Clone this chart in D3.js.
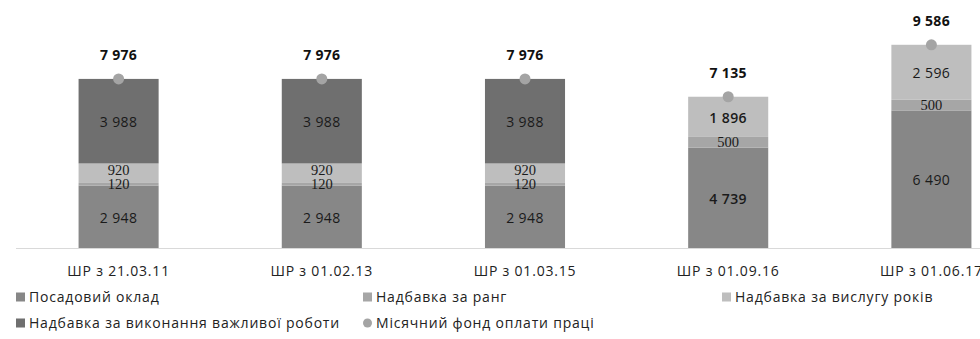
<!DOCTYPE html>
<html>
<head>
<meta charset="utf-8">
<script src="https://cdn.jsdelivr.net/npm/d3@7"></script>
<style>
  html, body { margin: 0; padding: 0; background: #fff; overflow: hidden; }
  svg { display: block; }
</style>
</head>
<body>
<svg id="chart" width="980" height="339"></svg>
<script>
// Salary structure by pay scale revision (UAH)
const categories = ["ШР з 21.03.11", "ШР з 01.02.13", "ШР з 01.03.15", "ШР з 01.09.16", "ШР з 01.06.17"];
const baseSalary     = [2948, 2948, 2948, 4739, 6490];   // Посадовий оклад
const rankBonus      = [120, 120, 120, 500, 500];        // Надбавка за ранг
const tenureBonus    = [920, 920, 920, 1896, 2596];      // Надбавка за вислугу років
const importantBonus = [3988, 3988, 3988, 0, 0];         // Надбавка за виконання важливої роботи
const monthlyFund    = [7976, 7976, 7976, 7135, 9586];   // Місячний фонд оплати праці

const seriesNames = ["Посадовий оклад", "Надбавка за ранг", "Надбавка за вислугу років",
                     "Надбавка за виконання важливої роботи", "Місячний фонд оплати праці"];
const seriesColors = ["#878787", "#a6a6a6", "#bebebe", "#6f6f6f", "#a4a4a4"];
const seriesValues = [baseSalary, rankBonus, tenureBonus, importantBonus];

const svg = d3.select("#chart");
const sansFont = "'Open Sans', Lato, 'DejaVu Sans', sans-serif";
const serifFont = "'Liberation Serif', 'DejaVu Serif', serif";

const x = d3.scaleBand()
  .domain(categories)
  .range([17, 1033])
  .paddingInner(0.606)
  .paddingOuter(0.303);

const y = d3.scaleLinear().domain([0, 10000]).range([248, 36]);

// baseline
svg.append("line")
  .attr("x1", 16).attr("x2", 1033)
  .attr("y1", y(0) + 0.5).attr("y2", y(0) + 0.5)
  .attr("stroke", "#d9d9d9").attr("stroke-width", 1);

// stacked segments
const rows = categories.map((c, i) => {
  const r = { cat: c };
  seriesValues.forEach((s, k) => r["s" + k] = s[i]);
  return r;
});
const stack = d3.stack().keys(seriesValues.map((s, k) => "s" + k));
const layers = stack(rows);

const gBars = svg.append("g");
layers.forEach((layer, k) => {
  gBars.selectAll(null)
    .data(layer.filter(d => d[1] - d[0] > 0))
    .enter().append("rect")
    .attr("x", d => x(d.data.cat))
    .attr("width", x.bandwidth())
    .attr("y", d => y(d[1]))
    .attr("height", d => y(d[0]) - y(d[1]))
    .attr("fill", seriesColors[k]);
});

// segment value labels
const fmt = v => d3.format(",")(v).replace(/,/g, " ");
const isSerif = (k, v) => k === 1 || (k === 2 && v < 1000);
layers.forEach((layer, k) => {
  gBars.selectAll(null)
    .data(layer.filter(d => d[1] - d[0] > 0))
    .enter().append("text")
    .attr("x", d => x(d.data.cat) + x.bandwidth() / 2)
    .attr("y", d => {
      const v = d[1] - d[0];
      const mid = (y(d[0]) + y(d[1])) / 2;
      if (k === 1 && v < 300) return mid + 5;   // thin band: label hangs just below it
      if (k === 2 && v < 1000) return mid + 1.5; // light band above the thin one
      if (isSerif(k, v)) return mid + 5;
      return mid + 6;
    })
    .attr("text-anchor", "middle")
    .attr("font-family", d => isSerif(k, d[1] - d[0]) ? serifFont : sansFont)
    .attr("font-size", d => isSerif(k, d[1] - d[0]) ? 14.5 : 14)
    .attr("letter-spacing", d => isSerif(k, d[1] - d[0]) ? 0 : 0.4)
    .attr("font-weight", d => (k === 2 && d[1] - d[0] < 2000 && d[1] - d[0] > 1000) || (k === 0 && d[1] - d[0] > 4000 && d[1] - d[0] < 5000) ? 600 : 400)
    .attr("fill", "#1a1a1a")
    .text(d => fmt(d[1] - d[0]));
});

// monthly fund markers and totals
const gDots = svg.append("g");
gDots.selectAll("circle")
  .data(monthlyFund)
  .enter().append("circle")
  .attr("cx", (d, i) => x(categories[i]) + x.bandwidth() / 2)
  .attr("cy", d => y(d))
  .attr("r", 5.5)
  .attr("fill", seriesColors[4]);

gDots.selectAll("text")
  .data(monthlyFund)
  .enter().append("text")
  .attr("x", (d, i) => x(categories[i]) + x.bandwidth() / 2)
  .attr("y", d => y(d) - 19)
  .attr("text-anchor", "middle")
  .attr("font-family", sansFont)
  .attr("font-size", 14)
  .attr("letter-spacing", 0.3)
  .attr("font-weight", 700)
  .attr("fill", "#111")
  .text(d => fmt(d));

// category axis
const xAxis = d3.axisBottom(x).tickSize(0).tickPadding(0);
const gAx = svg.append("g")
  .attr("transform", `translate(0, ${y(0)})`)
  .call(xAxis);
gAx.select(".domain").remove();
gAx.selectAll("text")
  .attr("dy", 0)
  .attr("y", 28)
  .attr("font-family", sansFont)
  .attr("font-size", 14)
  .attr("letter-spacing", 0.8)
  .attr("fill", "#222");

// legend
const legendPos = [[16, 297], [363, 297], [722, 297], [16, 323], [363, 323]];
const gLeg = svg.append("g");
seriesNames.forEach((name, k) => {
  const [lx, ly] = legendPos[k];
  if (k === 4) {
    gLeg.append("circle").attr("cx", lx + 4.5).attr("cy", ly).attr("r", 4.5).attr("fill", seriesColors[k]);
  } else {
    gLeg.append("rect").attr("x", lx).attr("y", ly - 4.5).attr("width", 9).attr("height", 9).attr("fill", seriesColors[k]);
  }
  gLeg.append("text")
    .attr("x", lx + 13)
    .attr("y", ly + 5)
    .attr("font-family", sansFont)
    .attr("font-size", 14)
    .attr("letter-spacing", 0.8)
    .attr("fill", "#222")
    .text(name);
});
</script>
</body>
</html>
